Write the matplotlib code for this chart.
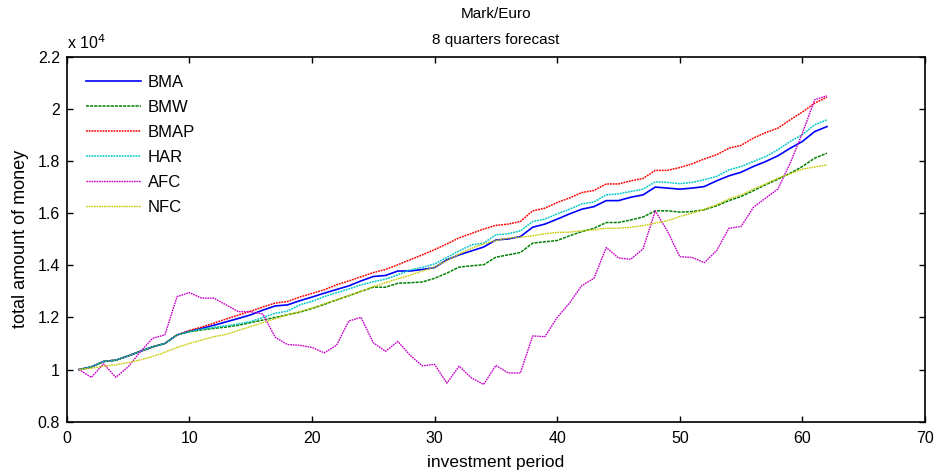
import numpy as np
import matplotlib
matplotlib.use('Agg')
import matplotlib.pyplot as plt

plt.rcParams['font.family'] = ['Liberation Sans', 'DejaVu Sans']

# values in units of 10^4
period = list(range(1, 63))

bma = [1.000, 1.010, 1.031, 1.036, 1.052, 1.070, 1.087, 1.100, 1.133, 1.147,
       1.158, 1.170, 1.183, 1.196, 1.210, 1.228, 1.244, 1.248, 1.264, 1.278,
       1.293, 1.307, 1.321, 1.340, 1.357, 1.361, 1.378, 1.378, 1.384, 1.391,
       1.421, 1.440, 1.455, 1.470, 1.497, 1.501, 1.510, 1.546, 1.558, 1.577,
       1.597, 1.615, 1.625, 1.648, 1.648, 1.661, 1.670, 1.700, 1.696, 1.692,
       1.696, 1.702, 1.724, 1.743, 1.757, 1.779, 1.798, 1.820, 1.849, 1.875,
       1.913, 1.932]

bmw = [1.000, 1.010, 1.031, 1.036, 1.052, 1.070, 1.087, 1.100, 1.133, 1.145,
       1.152, 1.158, 1.163, 1.170, 1.180, 1.190, 1.200, 1.210, 1.220, 1.234,
       1.250, 1.267, 1.283, 1.300, 1.316, 1.316, 1.331, 1.333, 1.336, 1.350,
       1.370, 1.393, 1.398, 1.402, 1.431, 1.440, 1.449, 1.485, 1.490, 1.495,
       1.513, 1.529, 1.542, 1.564, 1.564, 1.574, 1.585, 1.609, 1.609, 1.604,
       1.606, 1.613, 1.628, 1.648, 1.664, 1.686, 1.709, 1.730, 1.753, 1.779,
       1.811, 1.830]

bmap = [1.000, 1.010, 1.031, 1.036, 1.052, 1.070, 1.087, 1.100, 1.133, 1.150,
        1.163, 1.178, 1.194, 1.209, 1.224, 1.240, 1.255, 1.261, 1.278, 1.292,
        1.306, 1.325, 1.340, 1.356, 1.372, 1.384, 1.402, 1.421, 1.440, 1.460,
        1.482, 1.505, 1.522, 1.539, 1.553, 1.558, 1.568, 1.609, 1.619, 1.641,
        1.658, 1.679, 1.687, 1.712, 1.712, 1.724, 1.733, 1.764, 1.764, 1.775,
        1.789, 1.808, 1.824, 1.849, 1.860, 1.888, 1.909, 1.926, 1.958, 1.988,
        2.022, 2.045]

har = [1.000, 1.010, 1.031, 1.036, 1.052, 1.070, 1.087, 1.100, 1.133, 1.146,
       1.155, 1.162, 1.168, 1.175, 1.184, 1.200, 1.216, 1.224, 1.248, 1.262,
       1.280, 1.295, 1.309, 1.325, 1.337, 1.347, 1.363, 1.382, 1.392, 1.405,
       1.430, 1.455, 1.478, 1.485, 1.517, 1.521, 1.532, 1.568, 1.577, 1.597,
       1.615, 1.635, 1.643, 1.670, 1.674, 1.683, 1.692, 1.720, 1.718, 1.713,
       1.718, 1.728, 1.741, 1.766, 1.779, 1.798, 1.817, 1.843, 1.875, 1.901,
       1.939, 1.958]

afc = [1.000, 0.970, 1.022, 0.970, 1.010, 1.068, 1.120, 1.133, 1.280, 1.295,
       1.274, 1.274, 1.248, 1.222, 1.222, 1.213, 1.124, 1.096, 1.093, 1.085,
       1.064, 1.093, 1.186, 1.200, 1.103, 1.070, 1.108, 1.055, 1.014, 1.020,
       0.948, 1.013, 0.968, 0.943, 1.016, 0.987, 0.987, 1.129, 1.126, 1.200,
       1.255, 1.322, 1.350, 1.468, 1.428, 1.423, 1.463, 1.609, 1.530, 1.433,
       1.430, 1.410, 1.456, 1.542, 1.549, 1.622, 1.658, 1.692, 1.792, 1.907,
       2.035, 2.050]

nfc = [1.000, 1.005, 1.013, 1.018, 1.027, 1.037, 1.050, 1.066, 1.085, 1.100,
       1.113, 1.126, 1.135, 1.150, 1.165, 1.180, 1.195, 1.210, 1.222, 1.236,
       1.252, 1.268, 1.284, 1.300, 1.318, 1.333, 1.348, 1.362, 1.378, 1.393,
       1.418, 1.443, 1.465, 1.482, 1.495, 1.504, 1.508, 1.513, 1.521, 1.526,
       1.527, 1.532, 1.536, 1.542, 1.542, 1.546, 1.552, 1.562, 1.571, 1.587,
       1.600, 1.615, 1.632, 1.654, 1.670, 1.692, 1.712, 1.734, 1.751, 1.769,
       1.777, 1.785]

fig = plt.figure(figsize=(9.36, 4.75), dpi=100)
ax = fig.add_axes([0.0713, 0.1122, 0.9170, 0.7684])

dot = (0, (1.2, 0.6))
ax.plot(period, bma, color='#0000FF', lw=1.2, label='BMA')
ax.plot(period, bmw, color='#008000', lw=1.1, ls=(0, (2, 0.7)), label='BMW')
ax.plot(period, bmap, color='#FF0000', lw=1.1, ls=dot, label='BMAP')
ax.plot(period, har, color='#00C8C8', lw=1.1, ls=dot, label='HAR')
ax.plot(period, afc, color='#C800C8', lw=1.0, ls=dot, label='AFC')
ax.plot(period, nfc, color='#C8C800', lw=1.0, ls=dot, label='NFC')

ax.set_xlim(0, 70)
ax.set_ylim(0.8, 2.2)
ax.set_xticks(range(0, 71, 10))
ax.set_yticks([0.8, 1.0, 1.2, 1.4, 1.6, 1.8, 2.0, 2.2])
ax.set_yticklabels(['0.8', '1', '1.2', '1.4', '1.6', '1.8', '2', '2.2'])
ax.tick_params(direction='in', top=True, right=True, length=4, width=1,
               labelsize=11.5)
ax.tick_params(axis='x', pad=7)
ax.tick_params(axis='y', pad=5)
for s in ax.spines.values():
    s.set_linewidth(1.2)

ax.set_xlabel('investment period', fontsize=12.5, labelpad=6)
ax.set_ylabel('total amount of money', fontsize=13, labelpad=6)
ax.set_title('Mark/Euro\n8 quarters forecast', fontsize=11, pad=9,
             linespacing=2.1)
ax.text(0, 1.012, 'x 10$^4$', transform=ax.transAxes, fontsize=11.5,
        ha='left', va='bottom')

ax.legend(loc='upper left', frameon=False, fontsize=12, handlelength=3.3,
          handletextpad=0.4, labelspacing=0.6, borderaxespad=0,
          bbox_to_anchor=(0.0147, 0.968))

fig.savefig('out.png', dpi=100)
